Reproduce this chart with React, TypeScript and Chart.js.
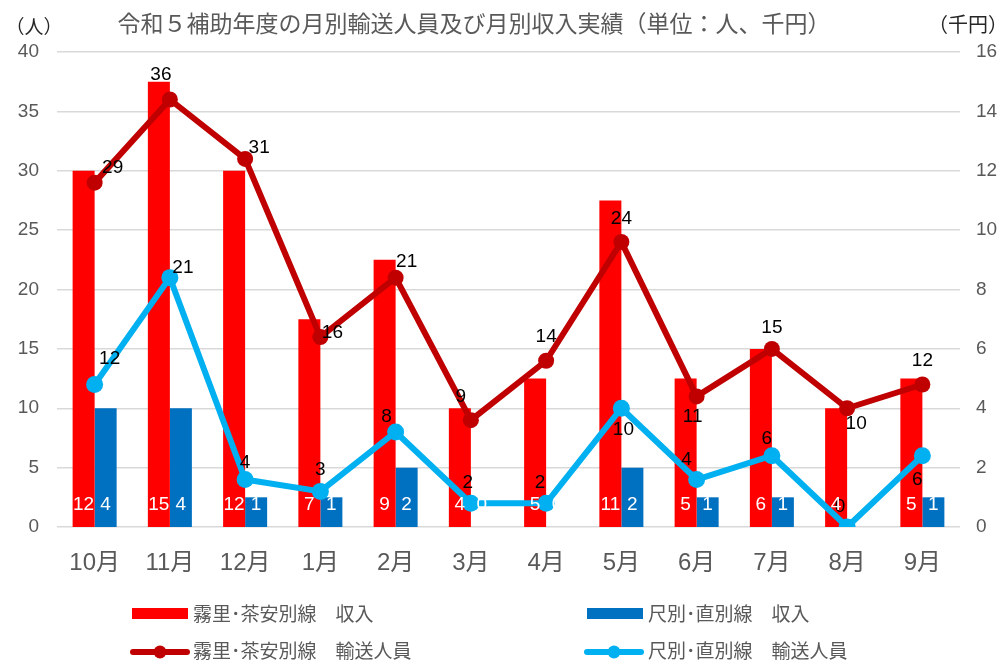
import React, { useEffect, useRef } from 'react';
import { Chart, registerables } from 'chart.js';

Chart.register(...registerables);

// ---- data ----
const months = ['10月', '11月', '12月', '1月', '2月', '3月', '4月', '5月', '6月', '7月', '8月', '9月'];
const kiriIncome = [12, 15, 12, 7, 9, 4, 5, 11, 5, 6, 4, 5]; // 千円
const shakuIncome = [4, 4, 1, 1, 2, 0, 0, 2, 1, 1, 0, 1]; // 千円
const kiriRiders = [29, 36, 31, 16, 21, 9, 14, 24, 11, 15, 10, 12]; // 人
const shakuRiders = [12, 21, 4, 3, 8, 2, 2, 10, 4, 6, 0, 6]; // 人
const leftMax = 40;
const leftStep = 5;
const rightMax = 16;
const rightStep = 2;
const seriesNames = [
  '霧里･茶安別線　収入',
  '尺別･直別線　収入',
  '霧里･茶安別線　輸送人員',
  '尺別･直別線　輸送人員',
];
const titleText = '令和５補助年度の月別輸送人員及び月別収入実績（単位：人、千円）';
const leftUnit = '（人）';
const rightUnit = '（千円）';

// ---- styles ----
const RED = '#FF0000';
const BLUE = '#0070C0';
const DARKRED = '#C00000';
const LIGHTBLUE = '#00B0F0';
const GRAY = '#595959';
const GRID = '#D9D9D9';
const LATIN = "'Liberation Sans', 'Noto Sans CJK JP', sans-serif";
const CJK = "'Noto Sans CJK JP', 'Liberation Sans', sans-serif";

// label placement offsets (px) for line point labels
const kiriLabelOffsets = [[18, -15], [-9, -25], [14, -11], [12, -4], [11, -16], [-10, -23], [0, -24], [0, -23], [-4, 20], [0, -21], [9, 16], [0, -24]];
const shakuLabelOffsets = [[15, -26], [13, -10], [0, -17], [0, -22], [-9, -15], [-3, -20], [-6, -20], [2, 22], [-10, -20], [-5, -17], [-7, -20], [-5, 24]];

const labelPlugin = {
  id: 'customLabels',
  afterDatasetsDraw(chart: any) {
    const ctx = chart.ctx;
    const area = chart.chartArea;
    ctx.save();
    ctx.font = `19px ${LATIN}`;
    ctx.textAlign = 'center';
    ctx.textBaseline = 'middle';
    const lineSets: [number, number[][]][] = [[2, kiriLabelOffsets], [3, shakuLabelOffsets]];
    lineSets.forEach(([di, offs]) => {
      const meta = chart.getDatasetMeta(di);
      const data = chart.data.datasets[di].data as number[];
      meta.data.forEach((pt: any, i: number) => {
        ctx.fillStyle = '#000000';
        ctx.fillText(String(data[i]), pt.x + offs[i][0], pt.y + offs[i][1]);
      });
    });
    [0, 1].forEach((di) => {
      const meta = chart.getDatasetMeta(di);
      const data = chart.data.datasets[di].data as number[];
      meta.data.forEach((bar: any, i: number) => {
        ctx.fillStyle = '#FFFFFF';
        ctx.fillText(String(data[i]), bar.x, area.bottom - 22);
      });
    });
    ctx.restore();
  },
  afterDraw(chart: any) {
    const ctx = chart.ctx;
    ctx.save();
    ctx.fillStyle = GRAY;
    ctx.font = `23px ${CJK}`;
    ctx.textAlign = 'center';
    ctx.textBaseline = 'middle';
    ctx.fillText(titleText, 474, 23);
    ctx.fillStyle = '#262626';
    ctx.font = `19px ${CJK}`;
    ctx.fillText(leftUnit, 34, 27);
    ctx.font = `20px ${CJK}`;
    ctx.fillText(rightUnit, 968, 24);
    ctx.textAlign = 'left';
    ctx.font = `19px ${CJK}`;
    const rects: [string, number, number][] = [[RED, 132, 608], [BLUE, 587, 608]];
    rects.forEach(([c, x, y]) => {
      ctx.fillStyle = c;
      ctx.fillRect(x, y, 56, 11);
    });
    const lines: [string, number, number][] = [[DARKRED, 130, 652], [LIGHTBLUE, 584, 652]];
    lines.forEach(([c, x, y]) => {
      ctx.strokeStyle = c;
      ctx.lineWidth = 6;
      ctx.lineCap = 'round';
      ctx.beginPath();
      ctx.moveTo(x + 3, y);
      ctx.lineTo(x + 57, y);
      ctx.stroke();
      ctx.fillStyle = c;
      ctx.beginPath();
      ctx.arc(x + 30, y, 6.5, 0, Math.PI * 2);
      ctx.fill();
    });
    ctx.fillStyle = GRAY;
    ctx.fillText(seriesNames[0], 193, 614);
    ctx.fillText(seriesNames[1], 648, 614);
    ctx.fillText(seriesNames[2], 193, 651);
    ctx.fillText(seriesNames[3], 648, 651);
    ctx.restore();
  },
};

export default function App() {
  const canvasRef = useRef<HTMLCanvasElement | null>(null);

  useEffect(() => {
    document.body.style.margin = '0';
    const canvas = canvasRef.current;
    if (!canvas) return;
    const chart = new Chart(canvas, {
      type: 'bar',
      data: {
        labels: months,
        datasets: [
          {
            type: 'bar',
            label: seriesNames[0],
            data: kiriIncome,
            backgroundColor: RED,
            yAxisID: 'y1',
            order: 2,
            categoryPercentage: 0.585,
            barPercentage: 1.0,
          },
          {
            type: 'bar',
            label: seriesNames[1],
            data: shakuIncome,
            backgroundColor: BLUE,
            yAxisID: 'y1',
            order: 2,
            categoryPercentage: 0.585,
            barPercentage: 1.0,
          },
          {
            type: 'line',
            label: seriesNames[2],
            data: kiriRiders,
            borderColor: DARKRED,
            backgroundColor: DARKRED,
            borderWidth: 6,
            pointRadius: 8,
            pointBackgroundColor: DARKRED,
            pointBorderWidth: 0,
            yAxisID: 'y',
            order: 1,
          },
          {
            type: 'line',
            label: seriesNames[3],
            data: shakuRiders,
            borderColor: LIGHTBLUE,
            backgroundColor: LIGHTBLUE,
            borderWidth: 6,
            pointRadius: 8.5,
            pointBackgroundColor: LIGHTBLUE,
            pointBorderWidth: 0,
            yAxisID: 'y',
            order: 0,
          },
        ],
      } as any,
      options: {
        responsive: false,
        animation: false,
        layout: { padding: { left: 0, right: 0, top: 52, bottom: 0 } },
        plugins: {
          legend: { display: false },
          title: { display: false },
          tooltip: { enabled: false },
        },
        scales: {
          x: {
            grid: { display: false },
            border: { display: false },
            ticks: { font: { size: 24, family: LATIN }, color: GRAY, padding: 14, maxRotation: 0, autoSkip: false },
            afterFit: (s: any) => { s.height = 134; },
          },
          y: {
            position: 'left',
            min: 0,
            max: leftMax,
            ticks: { stepSize: leftStep, font: { size: 19, family: LATIN }, color: GRAY, padding: 18 },
            grid: { color: GRID, lineWidth: 1.5, drawTicks: false },
            border: { display: false },
            afterFit: (s: any) => { s.width = 57; },
          },
          y1: {
            position: 'right',
            min: 0,
            max: rightMax,
            ticks: { stepSize: rightStep, font: { size: 19, family: LATIN }, color: GRAY, padding: 16 },
            grid: { display: false, drawTicks: false },
            border: { display: false },
            afterFit: (s: any) => { s.width = 44; },
          },
        },
      } as any,
      plugins: [labelPlugin],
    });
    return () => chart.destroy();
  }, []);

  return (
    <div style={{ width: 1004, height: 661, position: 'relative', background: '#fff' }}>
      <canvas ref={canvasRef} width={1004} height={661} style={{ display: 'block' }} />
    </div>
  );
}
